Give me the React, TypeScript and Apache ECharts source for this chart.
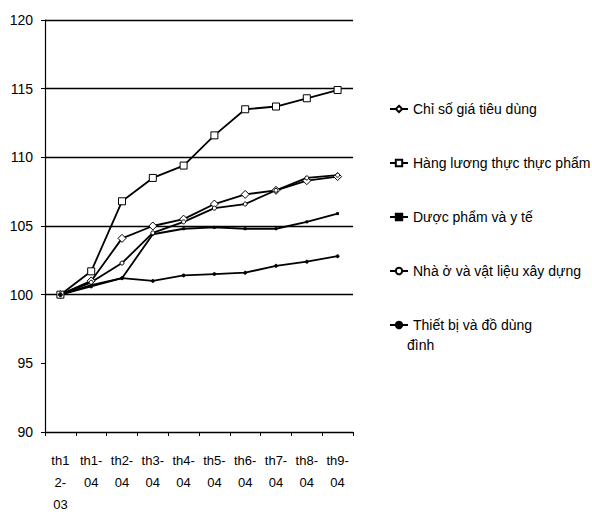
import React, { useEffect, useRef } from "react";
import * as echarts from "echarts";

const categories = ["th12-03", "th1-04", "th2-04", "th3-04", "th4-04", "th5-04", "th6-04", "th7-04", "th8-04", "th9-04"];
const xLabels = ["th1\n2-\n03", "th1-\n04", "th2-\n04", "th3-\n04", "th4-\n04", "th5-\n04", "th6-\n04", "th7-\n04", "th8-\n04", "th9-\n04"];

const cpi = [100, 101.0, 104.1, 105.0, 105.5, 106.6, 107.3, 107.6, 108.3, 108.6];
const food = [100, 101.7, 106.8, 108.5, 109.4, 111.6, 113.5, 113.7, 114.3, 114.9];
const pharma = [100, 100.7, 101.2, 104.4, 104.8, 104.9, 104.8, 104.8, 105.3, 105.9];
const housing = [100, 100.9, 102.3, 104.5, 105.3, 106.3, 106.6, 107.6, 108.5, 108.7];
const equipment = [100, 100.6, 101.2, 101.0, 101.4, 101.5, 101.6, 102.1, 102.4, 102.8];

const names = [
  "Chỉ số giá tiêu dùng",
  "Hàng lương thực thực phẩm",
  "Dược phẩm và y tế",
  "Nhà ở và vật liệu xây dựng",
  "Thiết bị và đồ dùng đình",
];
const legendLines: Record<string, string> = {
  "Thiết bị và đồ dùng đình": "Thiết bị và đồ dùng",
};
const legendExtraLine = "đình";

const FONT = "'Liberation Sans', Arial, sans-serif";

export default function App() {
  const ref = useRef<HTMLDivElement>(null);
  useEffect(() => {
    if (!ref.current) return;
    const chart = echarts.init(ref.current, null, { renderer: "svg" });
    const base = (name: string, data: number[], symbol: string, size: number, fill: string) => ({
      name,
      type: "line",
      data,
      symbol,
      symbolSize: size,
      showAllSymbol: true,
      lineStyle: { color: "#000", width: 1.8 },
      itemStyle: { color: fill, borderColor: "#000", borderWidth: 1 },
      emphasis: { disabled: true },
    });
    chart.setOption({
      animation: false,
      backgroundColor: "#fff",
      textStyle: { fontFamily: FONT },
      grid: { left: 45, right: 239, top: 20, bottom: 84, containLabel: false },
      xAxis: {
        type: "category",
        data: categories,
        boundaryGap: true,
        axisLine: { lineStyle: { color: "#000", width: 1.2 } },
        axisTick: { show: true, length: 4, inside: false, lineStyle: { color: "#000" } },
        axisLabel: {
          color: "#000",
          fontSize: 13,
          fontFamily: FONT,
          lineHeight: 22,
          margin: 17,
          interval: 0,
          formatter: (_v: string, i: number) => xLabels[i],
        },
        splitLine: { show: false },
      },
      yAxis: {
        type: "value",
        min: 90,
        max: 120,
        interval: 5,
        axisLine: { show: true, lineStyle: { color: "#000", width: 1.2 } },
        axisTick: { show: true, length: 4, lineStyle: { color: "#000" } },
        axisLabel: { color: "#000", fontSize: 14, fontFamily: FONT, margin: 12 },
        splitLine: {
          show: true,
          lineStyle: { color: ["#000", "transparent", "#000", "#000", "#000", "#000", "#000"], width: 1.3 },
        },
      },
      legend: {
        orient: "vertical",
        left: 384,
        top: 97,
        itemGap: 40,
        itemWidth: 18,
        itemHeight: 8,
        textStyle: { color: "#000", fontSize: 14, fontFamily: FONT },
        formatter: (n: string) => legendLines[n] ?? n,
        data: names,
        selectedMode: false,
      },
      graphic: [
        {
          type: "text",
          left: 407,
          top: 338,
          style: { text: legendExtraLine, fill: "#000", font: "14px " + FONT },
        },
      ],
      series: [
        base(names[0], cpi, "diamond", 8, "#fff"),
        base(names[1], food, "rect", 7, "#fff"),
        base(names[2], pharma, "rect", 2, "#000"),
        base(names[3], housing, "circle", 4, "#fff"),
        base(names[4], equipment, "circle", 3, "#000"),
      ],
    });
    return () => chart.dispose();
  }, []);
  return <div ref={ref} style={{ position: "absolute", left: 0, top: 0, width: 592, height: 516 }} />;
}
